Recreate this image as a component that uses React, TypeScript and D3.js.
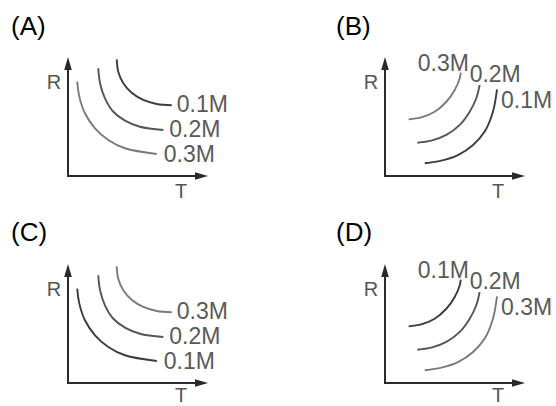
import React from "react";
import * as d3 from "d3";

// ---- data (plot units: T and R on a 0..10 scale) ----
const panelIds = ["(A)", "(B)", "(C)", "(D)"];
const concentrations = ["0.1M", "0.2M", "0.3M"];

// falling curves (panels A and C): outer, middle, inner
const fallOuterT = [3.48, 3.59, 3.95, 4.55, 5.38, 6.34, 7.41];
const fallOuterR = [9.8, 8.76, 7.79, 7.0, 6.39, 6.05, 5.94];
const fallMiddleT = [2.16, 2.29, 2.64, 3.24, 4.07, 5.14, 6.81];
const fallMiddleR = [9.05, 7.79, 6.53, 5.4, 4.65, 4.14, 3.87];
const fallInnerT = [0.66, 0.81, 1.21, 1.93, 2.88, 4.07, 6.34];
const fallInnerR = [7.93, 6.67, 5.27, 4.01, 3.03, 2.33, 1.85];

// rising curves (panels B and D): top-left, middle, bottom-right
const riseTopT = [1.69, 2.59, 3.55, 4.38, 4.98, 5.34, 5.41];
const riseTopR = [4.76, 4.93, 5.4, 6.24, 7.23, 8.21, 8.68];
const riseMiddleT = [2.31, 3.31, 4.38, 5.34, 6.05, 6.52, 6.76];
const riseMiddleR = [2.8, 2.97, 3.45, 4.29, 5.4, 6.53, 7.65];
const riseBottomT = [2.84, 4.02, 5.21, 6.29, 7.12, 7.71, 8.0];
const riseBottomR = [1.07, 1.29, 1.76, 2.61, 3.73, 5.4, 7.28];

// label for each curve (in curve order) per panel
const labelsA = ["0.1M", "0.2M", "0.3M"];
const labelsB = ["0.3M", "0.2M", "0.1M"];
const labelsC = ["0.3M", "0.2M", "0.1M"];
const labelsD = ["0.1M", "0.2M", "0.3M"];

const axisLabels = ["R", "T"];

// ---- layout / style ----
const W = 556;
const H = 406;
const origins = [
  [68, 176],
  [385, 176],
  [68, 383],
  [385, 383],
];
const titlePos = [
  [11, 35],
  [336, 35],
  [11, 241],
  [336, 241],
];
const tLabelDy = [22, 22, 18.5, 18.5];
const AX_W = 140;
const AX_H = 119;
const curveColor: Record<string, string> = {
  "0.1M": "#3c3c3c",
  "0.2M": "#555555",
  "0.3M": "#7a7a7a",
};
const fallOffsets = [
  [5, 7],
  [6, 7],
  [7, 8],
];
const riseOffsets = [
  [-43, -2],
  [-10, -2.5],
  [4, 19],
];

const zip = (t: number[], r: number[]) => t.map((v, i) => [v, r[i]] as [number, number]);
const fallCurves = [zip(fallOuterT, fallOuterR), zip(fallMiddleT, fallMiddleR), zip(fallInnerT, fallInnerR)];
const riseCurves = [zip(riseTopT, riseTopR), zip(riseMiddleT, riseMiddleR), zip(riseBottomT, riseBottomR)];

const panels = [
  { curves: fallCurves, labels: labelsA, offsets: fallOffsets },
  { curves: riseCurves, labels: labelsB, offsets: riseOffsets },
  { curves: fallCurves, labels: labelsC, offsets: fallOffsets },
  { curves: riseCurves, labels: labelsD, offsets: riseOffsets },
];

function Panel({ idx }: { idx: number }) {
  const [ox, oy] = origins[idx];
  const p = panels[idx];
  const x = d3.scaleLinear().domain([0, 10]).range([ox, ox + AX_W]);
  const y = d3.scaleLinear().domain([0, 10]).range([oy, oy - AX_H]);
  const line = d3
    .line<[number, number]>()
    .x((d) => x(d[0]))
    .y((d) => y(d[1]))
    .curve(d3.curveCatmullRom.alpha(0.5));
  const xEnd = x(10);
  const yEnd = y(10);
  const axisColor = "#2a2a2a";
  return (
    <g>
      <text
        x={titlePos[idx][0]}
        y={titlePos[idx][1]}
        fontFamily="'Liberation Sans', Arial, sans-serif"
        fontSize={26}
        fill="#000"
      >
        {panelIds[idx]}
      </text>
      {/* axes */}
      <line x1={x(0)} y1={y(0)} x2={x(0)} y2={yEnd + 10} stroke={axisColor} strokeWidth={2} />
      <line x1={x(0) - 1} y1={y(0)} x2={xEnd - 10} y2={y(0)} stroke={axisColor} strokeWidth={2} />
      <path
        d={`M${x(0)},${yEnd} L${x(0) - 3.8},${yEnd + 13} L${x(0) + 3.8},${yEnd + 13} Z`}
        fill={axisColor}
      />
      <path
        d={`M${xEnd},${y(0)} L${xEnd - 13},${y(0) - 3.8} L${xEnd - 13},${y(0) + 3.8} Z`}
        fill={axisColor}
      />
      <text
        x={x(0) - 14}
        y={y(0) - 87.5}
        textAnchor="middle"
        fontFamily="'Liberation Sans', Arial, sans-serif"
        fontSize={20}
        fill="#555"
      >
        {axisLabels[0]}
      </text>
      <text
        x={x(0) + 113}
        y={y(0) + tLabelDy[idx]}
        textAnchor="middle"
        fontFamily="'Liberation Sans', Arial, sans-serif"
        fontSize={20}
        fill="#555"
      >
        {axisLabels[1]}
      </text>
      {p.curves.map((c, i) => {
        const lab = p.labels[i];
        const last = c[c.length - 1];
        return (
          <g key={i}>
            <path d={line(c) || ""} fill="none" stroke={curveColor[lab]} strokeWidth={1.9} />
            <text
              x={x(last[0]) + p.offsets[i][0]}
              y={y(last[1]) + p.offsets[i][1]}
              fontFamily="'Liberation Sans', Arial, sans-serif"
              fontSize={23}
              fill="#5a5a5a"
            >
              {concentrations.includes(lab) ? lab : ""}
            </text>
          </g>
        );
      })}
    </g>
  );
}

export default function App() {
  return (
    <svg
      width={W}
      height={H}
      viewBox={`0 0 ${W} ${H}`}
      style={{ position: "absolute", left: 0, top: 0, background: "#fff" }}
    >
      <rect x={0} y={0} width={W} height={H} fill="#fff" />
      {[0, 1, 2, 3].map((i) => (
        <Panel key={i} idx={i} />
      ))}
    </svg>
  );
}
